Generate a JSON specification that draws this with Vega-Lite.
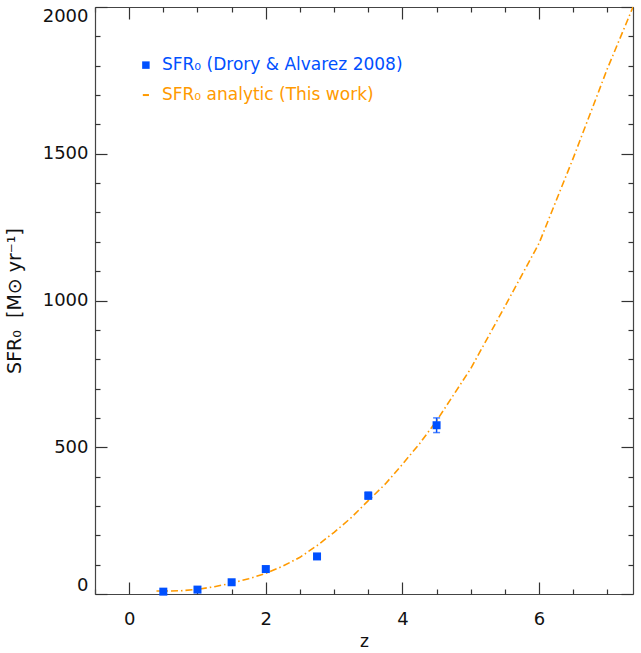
{
  "$schema": "https://vega.github.io/schema/vega-lite/v6.json",
  "width": 538,
  "height": 587,
  "autosize": {"type": "none"},
  "padding": {"left": 95, "top": 7, "right": 8, "bottom": 59},
  "background": "white",
  "config": {
    "view": {"stroke": null},
    "font": "DejaVu Sans",
    "axis": {
      "grid": false,
      "domainColor": "#444",
      "domainWidth": 1.2,
      "tickColor": "#333",
      "tickWidth": 1.2,
      "labelColor": "#111",
      "titleColor": "#111",
      "labelFont": "DejaVu Sans",
      "titleFont": "DejaVu Sans",
      "labelFontSize": 18,
      "titleFontSize": 17,
      "titleFontWeight": "normal"
    }
  },
  "datasets": {
    "obs": [
      {"z": 0.5, "sfr": 8, "lo": 5, "hi": 11},
      {"z": 1.0, "sfr": 15, "lo": 11, "hi": 19},
      {"z": 1.5, "sfr": 40, "lo": 34, "hi": 46},
      {"z": 2.0, "sfr": 85, "lo": 78, "hi": 92},
      {"z": 2.75, "sfr": 128, "lo": 122, "hi": 134},
      {"z": 3.5, "sfr": 335, "lo": 323, "hi": 347},
      {"z": 4.5, "sfr": 575, "lo": 550, "hi": 600}
    ],
    "model": [
      {"z": 0.4, "sfr": 10},
      {"z": 0.5, "sfr": 10},
      {"z": 0.75, "sfr": 11},
      {"z": 1.0, "sfr": 16},
      {"z": 1.25, "sfr": 25},
      {"z": 1.5, "sfr": 37},
      {"z": 1.75, "sfr": 52},
      {"z": 2.0, "sfr": 70},
      {"z": 2.25, "sfr": 95},
      {"z": 2.5, "sfr": 125},
      {"z": 2.75, "sfr": 165},
      {"z": 3.0, "sfr": 210},
      {"z": 3.25, "sfr": 260},
      {"z": 3.5, "sfr": 318},
      {"z": 3.75, "sfr": 375},
      {"z": 4.0, "sfr": 442},
      {"z": 4.25, "sfr": 512},
      {"z": 4.5, "sfr": 590},
      {"z": 5.0, "sfr": 768},
      {"z": 5.5, "sfr": 980},
      {"z": 6.0, "sfr": 1195},
      {"z": 6.5, "sfr": 1485},
      {"z": 7.0, "sfr": 1790},
      {"z": 7.375, "sfr": 2000}
    ],
    "one": [{}]
  },
  "resolve": {"axis": {"x": "independent", "y": "independent"}},
  "layer": [
    {
      "data": {"name": "model"},
      "mark": {"type": "line", "color": "#FF9A00", "strokeWidth": 1.6, "strokeDash": [7, 3, 1.5, 3], "clip": true},
      "encoding": {
        "x": {"field": "z", "type": "quantitative",
              "scale": {"domain": [-0.5, 7.375], "nice": false, "zero": false},
              "axis": {"orient": "bottom", "values": [0, 2, 4, 6], "format": "d", "tickSize": -12, "labelPadding": 28, "title": "z", "titlePadding": 5, "domain": true}},
        "y": {"field": "sfr", "type": "quantitative",
              "scale": {"domain": [0, 2000], "nice": false, "zero": false},
              "axis": {"orient": "left", "values": [0, 500, 1000, 1500, 2000], "format": "d", "tickSize": -12, "labelPadding": 19, "labelFlush": true, "title": "SFR₀\u00a0\u00a0[M⊙ yr⁻¹]", "titleFontSize": 19, "titlePadding": 18, "domain": true}}
      }
    },
    {
      "data": {"name": "obs"},
      "mark": {"type": "rule", "color": "#0050FF", "strokeWidth": 1.5},
      "encoding": {
        "x": {"field": "z", "type": "quantitative",
              "scale": {"domain": [-0.5, 7.375], "nice": false, "zero": false},
              "axis": {"orient": "bottom", "values": [-0.5, 0.5, 1, 1.5, 2.5, 3, 3.5, 4.5, 5, 5.5, 6.5, 7], "tickSize": -5, "labels": false, "domain": false, "title": null}},
        "y": {"field": "lo", "type": "quantitative",
              "scale": {"domain": [0, 2000], "nice": false, "zero": false},
              "axis": {"orient": "left", "values": [100, 200, 300, 400, 600, 700, 800, 900, 1100, 1200, 1300, 1400, 1600, 1700, 1800, 1900], "tickSize": -5, "labels": false, "domain": false, "title": null}},
        "y2": {"field": "hi"}
      }
    },
    {
      "data": {"name": "obs"},
      "mark": {"type": "tick", "color": "#0050FF", "orient": "horizontal", "size": 7, "thickness": 1.5},
      "encoding": {
        "x": {"field": "z", "type": "quantitative",
              "scale": {"domain": [-0.5, 7.375], "nice": false, "zero": false},
              "axis": {"orient": "top", "values": [0, 2, 4, 6], "tickSize": -12, "labels": false, "title": null, "domain": true}},
        "y": {"field": "hi", "type": "quantitative",
              "scale": {"domain": [0, 2000], "nice": false, "zero": false},
              "axis": {"orient": "right", "values": [0, 500, 1000, 1500, 2000], "tickSize": -12, "labels": false, "title": null, "domain": true}}
      }
    },
    {
      "data": {"name": "obs"},
      "mark": {"type": "tick", "color": "#0050FF", "orient": "horizontal", "size": 7, "thickness": 1.5},
      "encoding": {
        "x": {"field": "z", "type": "quantitative",
              "scale": {"domain": [-0.5, 7.375], "nice": false, "zero": false},
              "axis": {"orient": "top", "values": [-0.5, 0.5, 1, 1.5, 2.5, 3, 3.5, 4.5, 5, 5.5, 6.5, 7], "tickSize": -5, "labels": false, "domain": false, "title": null}},
        "y": {"field": "lo", "type": "quantitative",
              "scale": {"domain": [0, 2000], "nice": false, "zero": false},
              "axis": {"orient": "right", "values": [100, 200, 300, 400, 600, 700, 800, 900, 1100, 1200, 1300, 1400, 1600, 1700, 1800, 1900], "tickSize": -5, "labels": false, "domain": false, "title": null}}
      }
    },
    {
      "data": {"name": "obs"},
      "mark": {"type": "point", "shape": "square", "filled": true, "size": 64, "color": "#0050FF", "opacity": 1},
      "encoding": {
        "x": {"field": "z", "type": "quantitative", "scale": {"domain": [-0.5, 7.375], "nice": false, "zero": false}, "axis": null},
        "y": {"field": "sfr", "type": "quantitative", "scale": {"domain": [0, 2000], "nice": false, "zero": false}, "axis": null}
      }
    },
    {
      "data": {"name": "one"},
      "mark": {"type": "point", "shape": "square", "filled": true, "size": 56, "color": "#0050FF", "opacity": 1},
      "encoding": {
        "x": {"datum": 0.245, "type": "quantitative", "axis": null},
        "y": {"datum": 1802, "type": "quantitative", "axis": null}
      }
    },
    {
      "data": {"name": "one"},
      "mark": {"type": "rule", "color": "#FF9A00", "strokeWidth": 2},
      "encoding": {
        "x": {"datum": 0.2, "type": "quantitative", "axis": null},
        "x2": {"datum": 0.29},
        "y": {"datum": 1700, "type": "quantitative", "axis": null}
      }
    },
    {
      "data": {"name": "one"},
      "mark": {"type": "text", "align": "left", "baseline": "middle", "fontSize": 17, "font": "DejaVu Sans", "color": "#0050FF"},
      "encoding": {
        "x": {"datum": 0.48, "type": "quantitative", "axis": null},
        "y": {"datum": 1802, "type": "quantitative", "axis": null},
        "text": {"value": "SFR₀ (Drory & Alvarez 2008)"}
      }
    },
    {
      "data": {"name": "one"},
      "mark": {"type": "text", "align": "left", "baseline": "middle", "fontSize": 17, "font": "DejaVu Sans", "color": "#FF9A00"},
      "encoding": {
        "x": {"datum": 0.48, "type": "quantitative", "axis": null},
        "y": {"datum": 1700, "type": "quantitative", "axis": null},
        "text": {"value": "SFR₀ analytic (This work)"}
      }
    }
  ]
}
